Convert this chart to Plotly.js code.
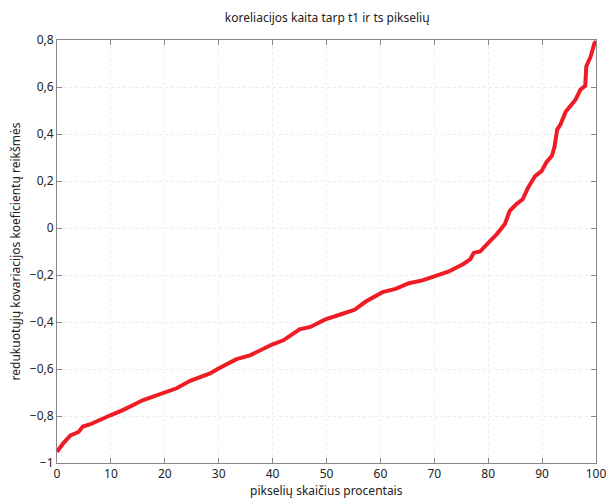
<!DOCTYPE html>
<html>
<head>
<meta charset="utf-8">
<script src="https://cdn.plot.ly/plotly-3.0.1.min.js"></script>
<style>html,body{margin:0;padding:0;background:#fff;}#chart{width:606px;height:498px;}</style>
</head>
<body>
<div id="chart"></div>
<script>
const pixelPercent = [0, 1.2, 2.5, 4, 4.8, 6.2, 9.8, 12.3, 16, 19.8, 22.2, 24.7, 28.4, 29.8, 33.3, 35.8, 39.9, 42, 45, 47, 49.8, 53, 55.2, 57.3, 60.4, 62.8, 65.3, 67.8, 69.8, 72.6, 75.4, 76.7, 77.3, 78.5, 80.1, 81.6, 83.1, 84, 85.2, 86.4, 87.4, 88.7, 89.9, 90.8, 91.8, 92.3, 92.8, 93.4, 94.4, 95.3, 96.2, 97.1, 98, 98.2, 99, 99.7, 100];
const corrValue = [-0.952, -0.915, -0.883, -0.868, -0.845, -0.835, -0.798, -0.774, -0.732, -0.70, -0.682, -0.65, -0.619, -0.60, -0.558, -0.542, -0.496, -0.478, -0.431, -0.421, -0.389, -0.365, -0.348, -0.313, -0.273, -0.259, -0.235, -0.223, -0.209, -0.186, -0.153, -0.132, -0.106, -0.10, -0.061, -0.026, 0.017, 0.073, 0.101, 0.122, 0.172, 0.221, 0.242, 0.28, 0.306, 0.345, 0.419, 0.44, 0.496, 0.518, 0.546, 0.588, 0.605, 0.687, 0.729, 0.786, 0.795];
const xTicks = [0, 10, 20, 30, 40, 50, 60, 70, 80, 90, 100];
const yTicks = [-1, -0.8, -0.6, -0.4, -0.2, 0, 0.2, 0.4, 0.6, 0.8];
const xTitle = 'pikselių skaičius procentais';

const trace = {
  x: pixelPercent, y: corrValue, type: 'scatter', mode: 'lines',
  line: {color: '#ee1c25', width: 4, shape: 'linear'},
  hoverinfo: 'none', cliponaxis: false
};
const font = {family: '"Noto Sans", "Open Sans", sans-serif', size: 12, color: '#222'};
const layout = {
  width: 606, height: 498,
  margin: {l: 57, r: 10, t: 40, b: 35, pad: 0},
  paper_bgcolor: '#fff', plot_bgcolor: '#fff',
  font: font,
  separators: ',.',
  showlegend: false,
  title: {text: 'koreliacijos kaita tarp t1 ir ts pikselių', font: {size: 12, color: '#222'}, x: 0.54, xanchor: 'center', y: 0.965, yanchor: 'middle'},
  xaxis: {
    range: [0, 100], tickvals: xTicks, ticks: 'inside', ticklen: 5, tickcolor: '#888',
    ticklabeloverflow: 'allow',
    showline: true, linecolor: '#888', linewidth: 1, mirror: 'ticks',
    showgrid: true, gridcolor: '#ececec', griddash: 'dot', zeroline: false,
    automargin: false
  },
  yaxis: {
    range: [-1, 0.8], tickvals: yTicks, ticks: 'inside', ticklen: 5, tickcolor: '#888',
    showline: true, linecolor: '#888', linewidth: 1, mirror: 'ticks',
    showgrid: true, gridcolor: '#ececec', griddash: 'dot', zeroline: false,
    automargin: false,
    title: {text: 'redukuotųjų kovariacijos koeficientų reikšmės', font: {size: 12, color: '#222'}, standoff: 6}
  },
  annotations: [{
    text: xTitle, xref: 'paper', yref: 'paper', x: 0.5, y: 0, xanchor: 'center', yanchor: 'top',
    yshift: -19, borderpad: 0, borderwidth: 0, showarrow: false, font: {size: 12, color: '#222'}
  }]
};
Plotly.newPlot('chart', [trace], layout, {staticPlot: true, displayModeBar: false});
</script>
</body>
</html>
